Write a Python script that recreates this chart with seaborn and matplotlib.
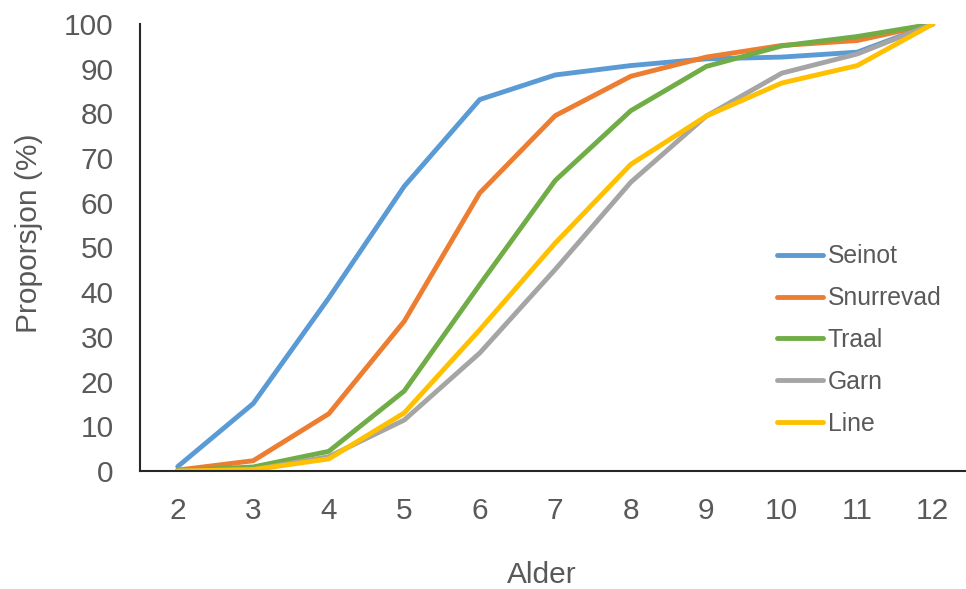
import matplotlib
matplotlib.use("Agg")
import matplotlib.pyplot as plt
import seaborn as sns
import pandas as pd

# Data
alder = [2, 3, 4, 5, 6, 7, 8, 9, 10, 11, 12]
seinot = [1.0, 15.1, 38.7, 63.7, 83.1, 88.6, 90.7, 92.2, 92.6, 93.7, 100]
snurrevad = [0.2, 2.3, 12.8, 33.5, 62.2, 79.5, 88.3, 92.6, 95.2, 96.3, 100]
traal = [0.1, 0.9, 4.4, 17.9, 41.7, 65.0, 80.6, 90.5, 95.1, 97.2, 100]
garn = [0.0, 0.3, 3.2, 11.4, 26.4, 45.1, 64.6, 79.4, 89.0, 93.3, 100]
line = [0.0, 0.3, 2.7, 13.0, 31.6, 51.0, 68.6, 79.4, 86.8, 90.7, 100]

series_names = ["Seinot", "Snurrevad", "Traal", "Garn", "Line"]
colors = ["#5B9BD5", "#ED7D31", "#70AD47", "#A5A5A5", "#FFC000"]

df = pd.DataFrame({"Alder": alder, "Seinot": seinot, "Snurrevad": snurrevad,
                   "Traal": traal, "Garn": garn, "Line": line})
long_df = df.melt(id_vars="Alder", var_name="Redskap", value_name="Proporsjon")

sns.set_style("white")
plt.rcParams["font.family"] = ["Liberation Sans", "DejaVu Sans"]

fig = plt.figure(figsize=(9.66, 5.89), dpi=100)
ax = fig.add_axes([140 / 966, 1 - 471 / 589, 1 - 140 / 966, (471 - 24) / 589])

sns.lineplot(data=long_df, x="Alder", y="Proporsjon", hue="Redskap",
             hue_order=series_names, palette=colors, linewidth=3.5, ax=ax)

ax.set_xlim(1.5, 12.44)
ax.set_ylim(0, 100)
ax.set_xticks(alder)
ax.set_yticks(range(0, 101, 10))

text_col = "#595959"
ax.tick_params(axis="both", length=0, labelsize=21.5, labelcolor=text_col, pad=19)

for side in ["top", "right"]:
    ax.spines[side].set_visible(False)
for side in ["left", "bottom"]:
    ax.spines[side].set_color("#262626")
    ax.spines[side].set_linewidth(1.5)

ax.set_xlabel("Alder", fontsize=21.5, color=text_col)
ax.set_ylabel("Proporsjon (%)", fontsize=21.5, color=text_col)
ax.xaxis.set_label_coords((542 - 140) / 826, -(561 - 471) / 447)
ax.yaxis.set_label_coords(-(140 - 43) / 826, (471 - 233) / 447)

leg = ax.legend(loc="center left", bbox_to_anchor=(777 / 966, 1 - 340 / 589),
                bbox_transform=fig.transFigure, frameon=False, fontsize=17.8,
                handlelength=1.85, handletextpad=0.2, labelspacing=0.72,
                borderpad=0, borderaxespad=0)
for t in leg.get_texts():
    t.set_color(text_col)
for h in leg.get_lines():
    h.set_linewidth(3.5)

fig.savefig("out.png", dpi=100)
plt.close(fig)
